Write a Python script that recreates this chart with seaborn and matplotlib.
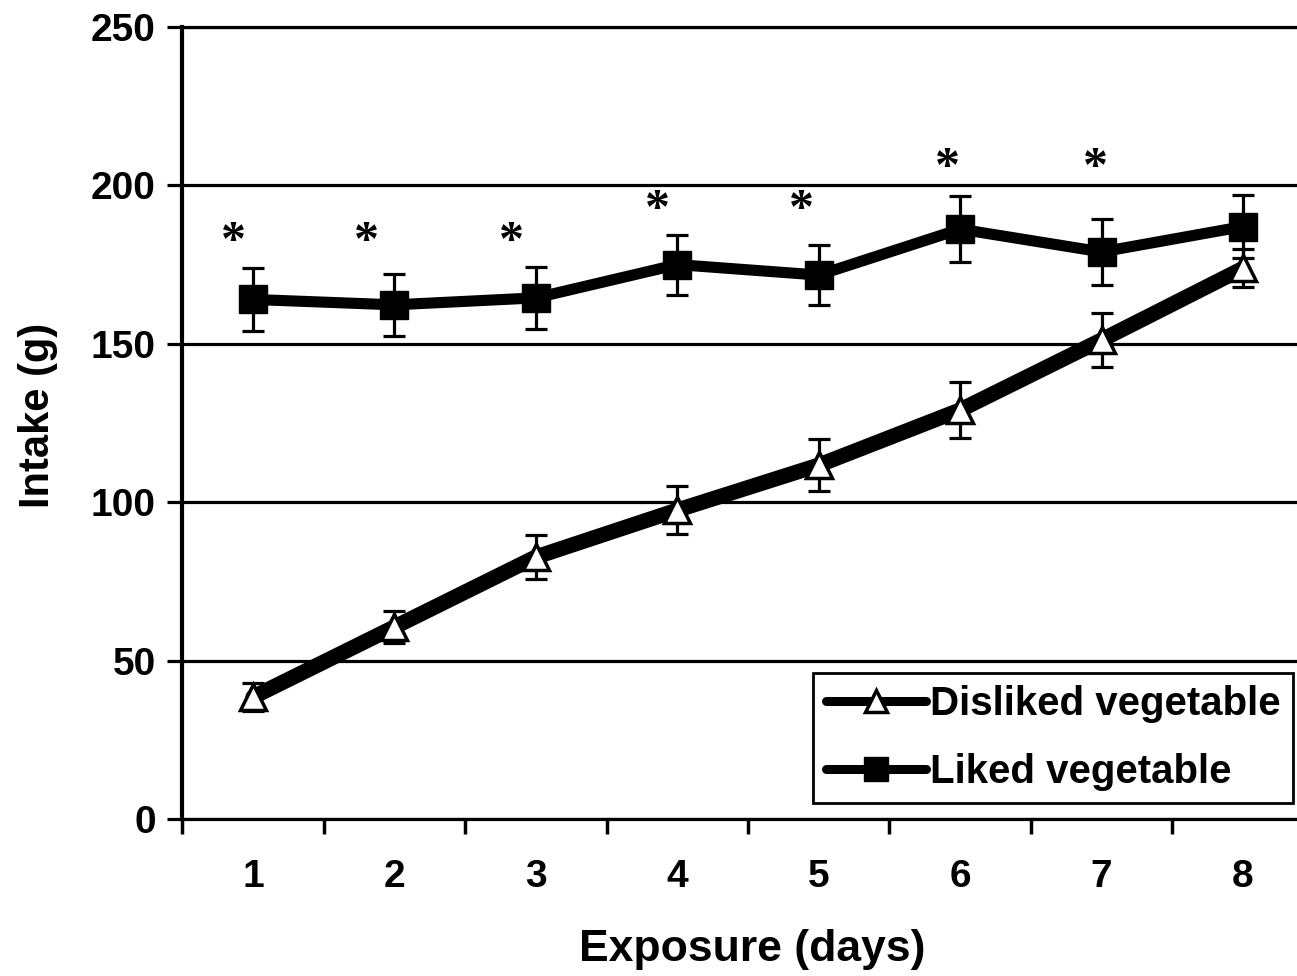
import matplotlib
matplotlib.use("Agg")
import matplotlib.pyplot as plt
import seaborn as sns
import pandas as pd
from matplotlib.ticker import FixedLocator

# ---- data ----
days = [1, 2, 3, 4, 5, 6, 7, 8]
day_labels = ["1", "2", "3", "4", "5", "6", "7", "8"]
liked = [164, 162.3, 164.5, 175, 171.7, 186.2, 179, 187]
liked_err = [10, 9.8, 9.8, 9.5, 9.5, 10.3, 10.4, 10]
disliked = [38.5, 60.6, 82.7, 97.5, 111.7, 129.1, 151.2, 173.8]
disliked_err = [4.5, 5, 7, 7.5, 8.2, 8.7, 8.5, 6]
sig_x = [0.86, 1.80, 2.83, 3.86, 4.88, 5.91, 6.96]
sig_y = [185.3, 185.3, 185.3, 195.4, 195.4, 208.6, 208.6]
y_ticks = [0, 50, 100, 150, 200, 250]

df_liked = pd.DataFrame({"day": days, "intake": liked})
df_disliked = pd.DataFrame({"day": days, "intake": disliked})

sns.set_theme(style="white")
plt.rcParams["font.family"] = ["Liberation Sans", "DejaVu Sans"]
plt.rcParams["font.weight"] = "bold"
for k in ["text.color", "axes.labelcolor", "xtick.color", "ytick.color"]:
    plt.rcParams[k] = "black"

fig = plt.figure(figsize=(12.97, 9.76), dpi=100)
ax = fig.add_axes([182.3 / 1297, 157 / 976, 1131.4 / 1297, 792 / 976])

# error bars (below markers)
ax.errorbar(days, liked, yerr=liked_err, fmt="none", ecolor="black",
            elinewidth=2.3, capsize=8, capthick=2.3, zorder=3)
sns.lineplot(data=df_liked, x="day", y="intake", ax=ax, color="black",
             linewidth=8, marker="s", markersize=20, markerfacecolor="black",
             markeredgecolor="black", markeredgewidth=1, label="Liked vegetable",
             zorder=4)
ax.errorbar(days, disliked, yerr=disliked_err, fmt="none", ecolor="black",
            elinewidth=2.3, capsize=8, capthick=2.3, zorder=5)
sns.lineplot(data=df_disliked, x="day", y="intake", ax=ax, color="black",
             linewidth=11, marker="^", markersize=19, markerfacecolor="white",
             markeredgecolor="black", markeredgewidth=2.5,
             label="Disliked vegetable", zorder=6)

# significance asterisks
for xv, yv in zip(sig_x, sig_y):
    ax.annotate("*", xy=(xv, yv), xytext=(0, -8), textcoords="offset points",
                ha="center", va="center", fontsize=36, fontweight="bold",
                family=["Liberation Serif", "DejaVu Serif"], color="black")

ax.set_xlim(0.5, 8.5)
ax.set_ylim(0, 250)
ax.set_xticks(days)
ax.set_xticklabels(day_labels)
ax.xaxis.set_minor_locator(FixedLocator([d - 0.5 for d in days] + [8.5]))
ax.set_yticks(y_ticks)
ax.tick_params(axis="x", which="major", length=0, pad=29, labelsize=28,
               colors="black")
ax.tick_params(axis="x", which="minor", bottom=True, length=11, width=2.5,
               direction="out", color="black")
ax.tick_params(axis="y", which="major", left=True, length=11, width=2.3,
               direction="out", pad=8, labelsize=28, colors="black")
for lab in ax.get_xticklabels() + ax.get_yticklabels():
    lab.set_fontweight("bold")

ax.yaxis.grid(True, color="black", linewidth=2.3)
ax.xaxis.grid(False)
ax.set_axisbelow(True)

for s in ["top", "bottom"]:
    ax.spines[s].set_color("black")
    ax.spines[s].set_linewidth(2.3)
ax.spines["left"].set_color("black")
ax.spines["left"].set_linewidth(3)
ax.spines["right"].set_visible(False)

ax.set_xlabel("Exposure (days)", fontsize=32, fontweight="bold", color="black")
ax.set_ylabel("Intake (g)", fontsize=30, fontweight="bold", color="black")
ax.xaxis.set_label_coords(0.504, -0.165)
ax.yaxis.set_label_coords(-0.1275, 0.509)
ax.xaxis.label.set_va("center")
ax.yaxis.label.set_va("center")

handles, labels = ax.get_legend_handles_labels()
order = [labels.index("Disliked vegetable"), labels.index("Liked vegetable")]
leg = ax.legend([handles[i] for i in order], [labels[i] for i in order],
                loc="lower right", bbox_to_anchor=(1293 / 1297, 173 / 976),
                bbox_transform=fig.transFigure, borderaxespad=0,
                prop={"weight": "bold", "size": 29},
                frameon=True, fancybox=False, edgecolor="black",
                framealpha=1, handlelength=2.5, handletextpad=0.1,
                borderpad=0.3, labelspacing=0.75, markerscale=0.85)
leg.get_frame().set_linewidth(2)
for ln in leg.get_lines():
    ln.set_linewidth(6.5)
for t in leg.get_texts():
    t.set_color("black")

fig.savefig("out.png", dpi=100)
